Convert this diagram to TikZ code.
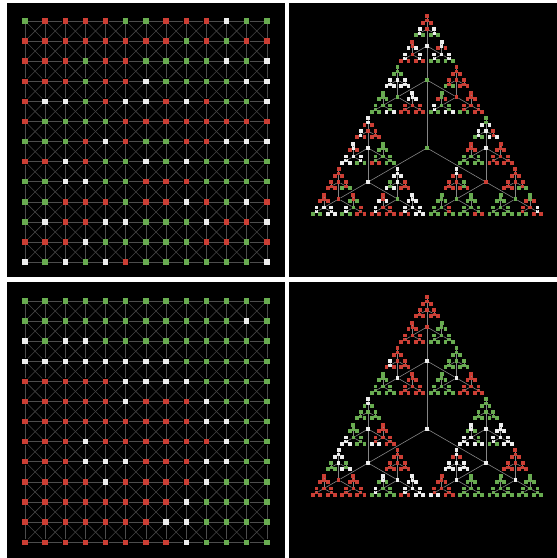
\documentclass[tikz,border=0pt]{standalone}
\usepackage{tikz}
\definecolor{nr}{RGB}{204,62,52}
\definecolor{ng}{RGB}{104,172,80}
\definecolor{nw}{RGB}{238,238,238}
\newcommand{\splitpair}{}
\def\splitpair#1#2\relax{\def\ca{#1}\def\cb{#2}}
\newcommand{\gridpanel}[3]{%
  \foreach \row [count=\j from 0] in {#3} {
    \foreach \cl [count=\i from 0] in \row
      \node[gnode, fill=n\cl] (#1-\i-\j) at ({25+20.15*\i},{#2-20.1*\j}) {};
  }
  \foreach \i in {0,...,12}
    \foreach \j [count=\k from 1] in {0,...,11} {
      \draw[gline] (#1-\i-\j) -- (#1-\i-\k);
      \draw[gline] (#1-\j-\i) -- (#1-\k-\i);
    }
  \foreach \i [count=\ii from 1] in {0,...,11}
    \foreach \j [count=\k from 1] in {0,...,11} {
      \draw[dline] (#1-\i-\j) -- (#1-\ii-\k);
      \draw[dline] (#1-\ii-\j) -- (#1-\i-\k);
    }
}
\newcommand{\treepanel}[4]{%
  \pgfmathparse{#3[0]}\edef\cl{\pgfmathresult}
  \node[tnode, fill=n\cl] (#1) at (427,#2) {};
  \foreach \a in {0,1,2} {
    \pgfmathtruncatemacro\idx{1+\a}\pgfmathparse{#3[\idx]}\edef\cl{\pgfmathresult}
    \node[tnode, fill=n\cl] (#1-\a) at ([shift={(90+120*\a:68)}]#1.center) {};
    \draw[tline] (#1) -- (#1-\a);
    \foreach \b in {0,1,2} {
      \pgfmathtruncatemacro\idx{4+3*\a+\b}\pgfmathparse{#3[\idx]}\edef\cl{\pgfmathresult}
      \node[tnode, fill=n\cl] (#1-\a\b) at ([shift={(90+120*\b:34)}]#1-\a.center) {};
      \draw[tline] (#1-\a) -- (#1-\a\b);
      \foreach \c in {0,1,2} {
        \pgfmathtruncatemacro\idx{13+9*\a+3*\b+\c}\pgfmathparse{#3[\idx]}\edef\cl{\pgfmathresult}
        \node[tnode, fill=n\cl] (#1-\a\b\c) at ([shift={(90+120*\c:17)}]#1-\a\b.center) {};
        \draw[tline] (#1-\a\b) -- (#1-\a\b\c);
        \foreach \d in {0,1,2} {
          \pgfmathtruncatemacro\idx{27*\a+9*\b+3*\c+\d}\pgfmathparse{#4[\idx]}
          \expandafter\splitpair\pgfmathresult\relax
          \node[tnode, fill=n\ca] (#1-\a\b\c\d) at ([shift={(90+120*\d:8.5)}]#1-\a\b\c.center) {};
          \draw[tline] (#1-\a\b\c) -- (#1-\a\b\c\d);
          \foreach \e in {0,1,2} {
            \ifnum\e=0 \edef\lc{\ca}\else\edef\lc{\cb}\fi
            \node[lnode, fill=n\lc] (#1-\a\b\c\d\e) at ([shift={(90+120*\e:4.25)}]#1-\a\b\c\d.center) {};
            \draw[tline] (#1-\a\b\c\d) -- (#1-\a\b\c\d\e);
          }
        }
      }
    }
  }
}
% inner nodes: root, level 1, level 2, level 3
\def\innA{{"g", "g","w","r", "w","g","r","w","r","g","w","g","g",
  "r","r","w","w","g","r","r","g","r", "r","w","g","r","w","g","w","r","w",
  "w","g","r","r","g","g","r","g","r"}}
\def\trefA{{"rr","wg","wg", "rw","wr","wr", "wr","wg","wg",
  "gg","ww","ww", "gg","gg","gw", "ww","rr","rr",
  "rr","rg","rr", "gr","wg","gw", "rr","rg","rr",
  "wr","wr","rr", "wr","ww","wg", "gg","gr","gg",
  "rr","rr","rg", "rr","wg","ww", "rg","wg","rr",
  "ww","gw","rr", "rw","wr","rr", "ww","wr","ww",
  "gw","wg","rw", "rr","gg","gg", "rr","rr","rr",
  "wr","rr","gr", "gg","gg","rg", "gg","gg","gr",
  "rr","rr","rg", "gg","gg","gg", "gr","rg","wr"}}
\def\innB{{"w", "w","w","w", "r","w","w","w","r","w","w","w","w",
  "r","r","g","r","g","r","g","g","r", "g","g","r","w","r","r","r","g","w",
  "g","w","w","w","r","g","r","g","g"}}
\def\trefB{{"rr","rr","rr", "rr","rr","rr", "gg","gg","gg",
  "rr","wr","rr", "gg","gg","gg", "rr","rr","rr",
  "gg","gg","gg", "gg","gg","gg", "rr","rr","rr",
  "wg","gg","gg", "gg","ww","gg", "rr","rw","rr",
  "ww","gg","gw", "rr","rr","rr", "rr","rr","rr",
  "rr","rr","rr", "wg","wg","gg", "ww","wr","ww",
  "gg","gg","gg", "wg","ww","gw", "ww","wg","ww",
  "wr","ww","ww", "rr","rw","rr", "gg","gg","gg",
  "rr","rr","rr", "gg","gg","gg", "gg","gg","gg"}}
\begin{document}
\begin{tikzpicture}[x=1pt, y=1pt,
    gnode/.style={rectangle, inner sep=0pt, minimum size=5.4pt},
    tnode/.style={rectangle, inner sep=0pt, minimum size=3.4pt},
    lnode/.style={rectangle, inner sep=0pt, minimum size=3.8pt},
    gline/.style={draw=black!70, line width=0.6pt},
    dline/.style={draw=black!73, line width=0.55pt},
    tline/.style={draw=black!48, line width=0.6pt}]
    \useasboundingbox (0,0) rectangle (557,558);
    \fill[white] (0,0) rectangle (557,558);
    \fill[black] (7,281) rectangle (285,555);
    \fill[black] (289,281) rectangle (557,555);
    \fill[black] (7,0) rectangle (285,276);
    \fill[black] (289,0) rectangle (557,276);
    \gridpanel{tl}{537}{%
      {g,r,r,r,r,g,g,r,r,r,w,g,g},
      {r,r,r,r,r,r,r,r,g,r,g,r,r},
      {r,r,r,g,r,r,g,g,g,g,w,g,w},
      {r,r,r,g,r,r,w,g,g,g,g,w,w},
      {r,w,w,g,r,w,w,r,w,r,g,g,w},
      {r,g,g,g,g,r,r,r,r,r,r,r,r},
      {g,g,g,r,w,r,g,g,r,r,w,w,w},
      {r,r,w,r,g,g,w,g,w,g,g,g,g},
      {g,g,w,w,g,g,r,r,r,g,g,g,g},
      {g,g,r,r,r,g,r,r,w,r,g,w,r},
      {g,w,r,r,w,w,g,g,g,w,r,r,w},
      {r,r,r,w,g,g,g,g,g,r,r,g,r},
      {w,g,w,g,w,r,g,g,g,g,g,g,w}}
    \gridpanel{bl}{257}{%
      {g,g,g,g,g,g,g,g,g,g,g,g,g},
      {g,g,g,g,g,g,g,g,g,g,g,w,g},
      {w,g,w,w,g,g,g,g,g,g,g,g,g},
      {w,w,w,w,w,w,w,w,g,g,g,g,g},
      {r,r,r,r,r,w,w,w,w,g,g,g,g},
      {r,r,r,r,r,w,r,r,r,w,g,g,g},
      {r,r,r,r,r,r,r,r,r,w,w,g,g},
      {r,r,r,w,r,r,r,r,r,r,w,g,g},
      {r,r,r,w,w,w,r,r,r,w,w,g,g},
      {r,r,r,r,w,r,r,r,r,w,g,g,g},
      {r,r,r,r,r,r,r,r,w,g,g,g,g},
      {r,r,r,r,r,r,r,w,w,g,g,g,g},
      {r,r,r,r,r,r,r,r,w,g,g,g,g}}
    \treepanel{tr}{410}{\innA}{\trefA}
    \treepanel{br}{129}{\innB}{\trefB}
\end{tikzpicture}
\end{document}
